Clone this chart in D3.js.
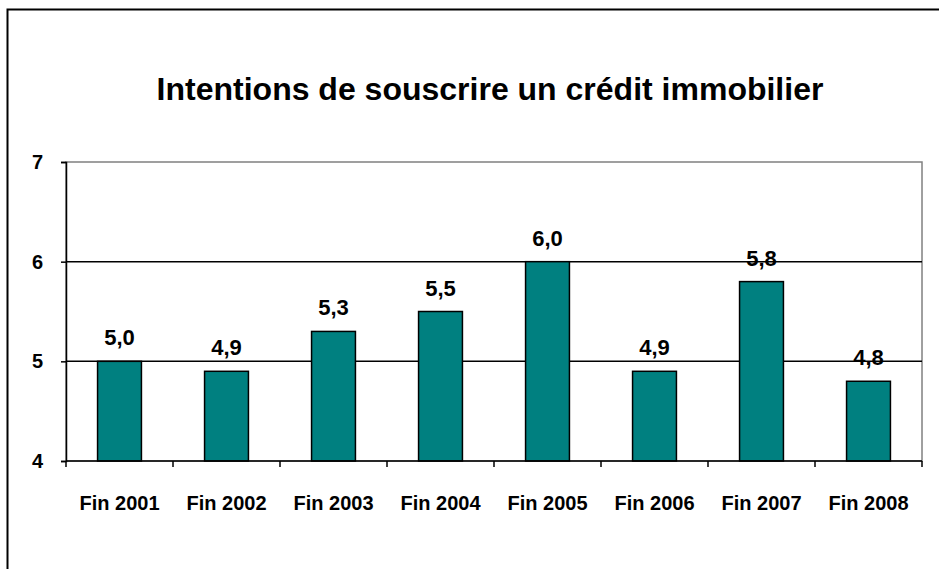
<!DOCTYPE html>
<html>
<head>
<meta charset="utf-8">
<script src="https://cdn.jsdelivr.net/npm/d3@7"></script>
<style>
  body { margin: 0; background: #fff; }
  text { font-family: Arial, "Liberation Sans", sans-serif; font-weight: bold; }
</style>
</head>
<body>
<div id="chart"></div>
<script>
const categories = ["Fin 2001", "Fin 2002", "Fin 2003", "Fin 2004", "Fin 2005", "Fin 2006", "Fin 2007", "Fin 2008"];
const values = [5.0, 4.9, 5.3, 5.5, 6.0, 4.9, 5.8, 4.8];
const yTicks = [4, 5, 6, 7];
const title = "Intentions de souscrire un crédit immobilier";

const width = 939,
  height = 569,
  margin = { top: 162, right: 17, bottom: 108, left: 66 };

const svg = d3.select("#chart")
  .append("svg")
  .attr("width", width)
  .attr("height", height);

// outer frame (only top and left edges are visible)
svg.append("rect")
  .attr("x", 7.5)
  .attr("y", 9.5)
  .attr("width", width + 20)
  .attr("height", height + 20)
  .attr("fill", "none")
  .attr("stroke", "#000")
  .attr("stroke-width", 2);

const x = d3.scaleBand()
  .domain(categories)
  .range([margin.left, width - margin.right])
  .paddingInner(0.59)
  .paddingOuter(0.295);

const y = d3.scaleLinear()
  .domain([4, 7])
  .range([height - margin.bottom, margin.top]);

// plot area border
svg.append("rect")
  .attr("x", margin.left)
  .attr("y", margin.top)
  .attr("width", width - margin.right - margin.left)
  .attr("height", height - margin.bottom - margin.top)
  .attr("fill", "none")
  .attr("stroke", "#808080")
  .attr("stroke-width", 1.5);

// gridlines
svg.append("g")
  .selectAll("line")
  .data(yTicks.slice(1, -1))
  .join("line")
  .attr("x1", margin.left)
  .attr("x2", width - margin.right)
  .attr("y1", d => y(d))
  .attr("y2", d => y(d))
  .attr("stroke", "#000")
  .attr("stroke-width", 1.5);

svg.append("g")
  .attr("stroke", "#000")
  .attr("stroke-width", 1.5)
  .selectAll("rect")
  .data(values)
  .join("rect")
  .attr("x", (d, i) => x(categories[i]))
  .attr("y", d => y(d))
  .attr("width", x.bandwidth())
  .attr("height", d => y(4) - y(d))
  .attr("fill", "#008080");

// y axis
const yAxis = svg.append("g")
  .attr("transform", `translate(${margin.left},0)`)
  .call(d3.axisLeft(y).tickValues(yTicks).tickSize(5).tickPadding(18).tickFormat(d3.format("d")));
yAxis.selectAll("text").attr("font-size", 20).attr("fill", "#000");
yAxis.selectAll("line, path").attr("stroke", "#000").attr("stroke-width", 1.5);

// x axis, ticks on category boundaries
const xAxis = svg.append("g")
  .attr("transform", `translate(0,${y(4)})`);
xAxis.append("line")
  .attr("x1", margin.left)
  .attr("x2", width - margin.right)
  .attr("stroke", "#000")
  .attr("stroke-width", 1.5);
const step = x.step();
xAxis.selectAll(".tick")
  .data(d3.range(categories.length + 1))
  .join("line")
  .attr("x1", i => margin.left + i * step)
  .attr("x2", i => margin.left + i * step)
  .attr("y1", 0)
  .attr("y2", 6)
  .attr("stroke", "#000")
  .attr("stroke-width", 1.5);
xAxis.selectAll("text")
  .data(categories)
  .join("text")
  .attr("x", d => x(d) + x.bandwidth() / 2)
  .attr("y", 49)
  .attr("text-anchor", "middle")
  .attr("font-size", 20)
  .text(d => d);

// value labels
svg.append("g")
  .selectAll("text")
  .data(values)
  .join("text")
  .attr("x", (d, i) => x(categories[i]) + x.bandwidth() / 2)
  .attr("y", d => y(d) - 16)
  .attr("text-anchor", "middle")
  .attr("font-size", 22)
  .text(d => d3.format(".1f")(d).replace(".", ","));

svg.append("text")
  .attr("x", 490)
  .attr("y", 100)
  .attr("text-anchor", "middle")
  .attr("font-size", 32)
  .text(title);
</script>
</body>
</html>
